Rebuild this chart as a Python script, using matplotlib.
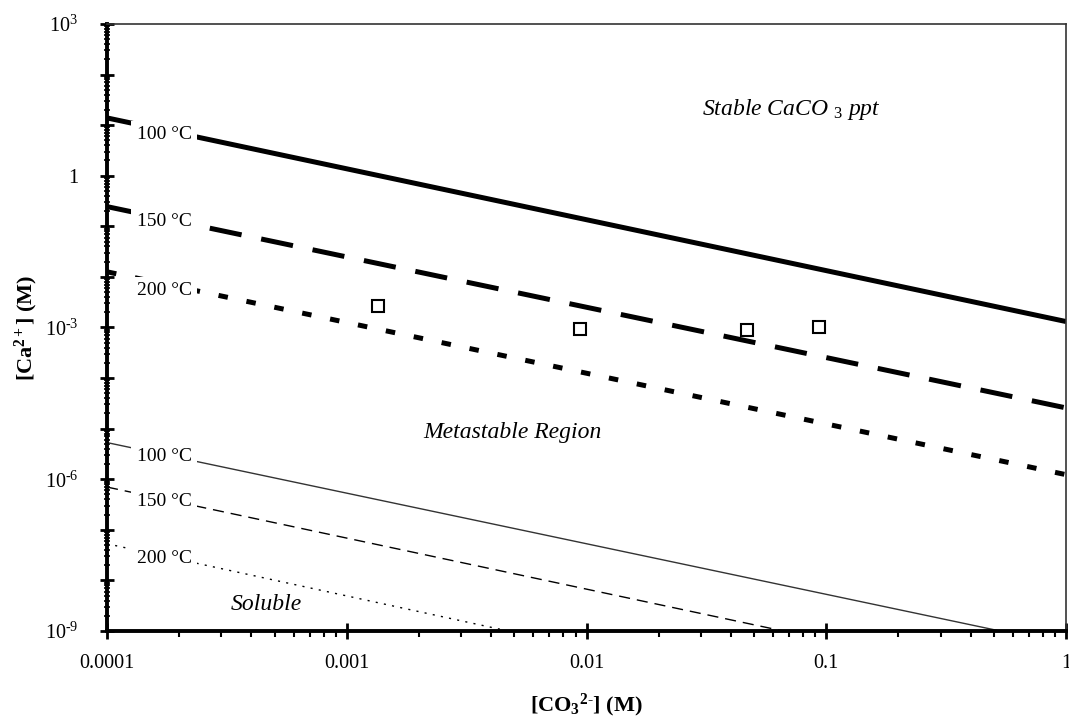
import matplotlib
matplotlib.use("Agg")
from matplotlib import pyplot as plt
from matplotlib import ticker
import numpy as np

# line ends: x = [CO3 2-] (M), y = [Ca 2+] (M)
x_full = [1e-4, 1.0]
ca_100_stable = [13.9, 1.31e-3]
ca_150_stable = [0.245, 2.57e-5]
ca_200_stable = [1.26e-2, 1.23e-6]

x_100_sol = [1e-4, 0.53]
ca_100_sol = [5.3e-6, 1e-9]
x_150_sol = [1e-4, 0.066]
ca_150_sol = [7.0e-7, 1e-9]
x_200_sol = [1e-4, 0.0047]
ca_200_sol = [5.3e-8, 1e-9]

# measured points
meas_co3 = [0.00135, 0.0094, 0.0469, 0.0935]
meas_ca = [2.6e-3, 9.4e-4, 9.0e-4, 1.01e-3]

# temperature labels (y position next to each line)
temp_labels = ['100 °C', '150 °C', '200 °C', '100 °C', '150 °C', '200 °C']
temp_label_y = [6.4, 0.124, 5.3e-3, 2.8e-6, 3.6e-7, 2.76e-8]

x_tick_vals = [1e-4, 1e-3, 1e-2, 1e-1, 1]
x_tick_text = ['0.0001', '0.001', '0.01', '0.1', '1']

plt.rcParams['font.family'] = ['Liberation Serif', 'DejaVu Serif']
plt.rcParams['mathtext.fontset'] = 'custom'
plt.rcParams['mathtext.rm'] = 'Liberation Serif'
plt.rcParams['mathtext.it'] = 'Liberation Serif:italic'
plt.rcParams['mathtext.bf'] = 'Liberation Serif:bold'

fig = plt.figure(figsize=(10.69, 7.24), dpi=100)
ax = fig.add_axes([0.1001, 0.1285, 0.8971, 0.8384])

ax.set_xscale('log')
ax.set_yscale('log')
ax.set_xlim(1e-4, 1)
ax.set_ylim(1e-9, 1e3)

# stable lines (thick)
ax.plot(x_full, ca_100_stable, color='black', lw=3.6, solid_capstyle='butt')
ax.plot(x_full, ca_150_stable, color='black', lw=3.6, dashes=(6.5, 4.0), dash_capstyle='butt')
ax.plot(x_full, ca_200_stable, color='black', lw=3.6, dashes=(1.9, 3.8), dash_capstyle='butt')

# solubility lines (thin)
ax.plot(x_100_sol, ca_100_sol, color='#333333', lw=1.0)
ax.plot(x_150_sol, ca_150_sol, color='black', lw=1.0, dashes=(8, 5))
ax.plot(x_200_sol, ca_200_sol, color='black', lw=1.0, dashes=(1.5, 4.5))

ax.plot(meas_co3, meas_ca, 's', ms=8, mfc='white', mec='black', mew=1.5, ls='none')

for lab, yv in zip(temp_labels, temp_label_y):
    ax.text(1.33e-4, yv, lab, fontsize=14, ha='left', va='center',
            bbox=dict(facecolor='white', edgecolor='none', pad=4))

ax.text(0.0713, 20, 'Stable CaCO $_{\\mathit{3}}$ ppt', fontsize=17, style='italic',
        ha='center', va='center')
ax.text(0.0049, 8.3e-6, 'Metastable Region', fontsize=17, style='italic',
        ha='center', va='center')
ax.text(4.6e-4, 3.3e-9, 'Soluble', fontsize=17, style='italic',
        ha='center', va='center')

# axes styling
for side in ['left', 'bottom']:
    ax.spines[side].set_linewidth(2.8)
for side in ['top', 'right']:
    ax.spines[side].set_linewidth(1.2)
    ax.spines[side].set_color('#333333')

ax.set_xticks(x_tick_vals)
ax.set_xticklabels(x_tick_text)
ax.xaxis.set_minor_locator(ticker.LogLocator(base=10, subs=np.arange(2, 10), numticks=10))
ax.xaxis.set_minor_formatter(ticker.NullFormatter())


def ylab(v, p):
    e = int(round(np.log10(v)))
    if e % 3 != 0:
        return ''
    if e == 0:
        return '1'
    if e < 0:
        return '10$^{\\text{-}%d}$' % (-e)
    return '10$^{%d}$' % e


ax.yaxis.set_major_locator(ticker.LogLocator(base=10, numticks=20))
ax.yaxis.set_minor_locator(ticker.LogLocator(base=10, subs=np.arange(2, 10), numticks=20))
ax.yaxis.set_major_formatter(ticker.FuncFormatter(ylab))
ax.yaxis.set_minor_formatter(ticker.NullFormatter())

ax.tick_params(axis='x', which='major', direction='inout', length=11, width=2, labelsize=14.5, pad=11)
ax.tick_params(axis='x', which='minor', direction='out', length=4.5, width=1.5)
ax.tick_params(axis='y', which='major', direction='inout', length=9.5, width=2, labelsize=14.5, pad=16)
ax.tick_params(axis='y', which='minor', direction='inout', length=4, width=1.2)

ax.set_xlabel('[CO$_{\\mathbf{3}}$$^{\\mathbf{2\\text{-}}}$] (M)', fontsize=16, fontweight='bold')
ax.set_ylabel('[Ca$^{\\mathbf{2+}}$] (M)', fontsize=16, fontweight='bold')
ax.xaxis.set_label_coords(0.5, -0.100)
ax.yaxis.set_label_coords(-0.070, 0.5)

fig.savefig('out.png', dpi=100)
